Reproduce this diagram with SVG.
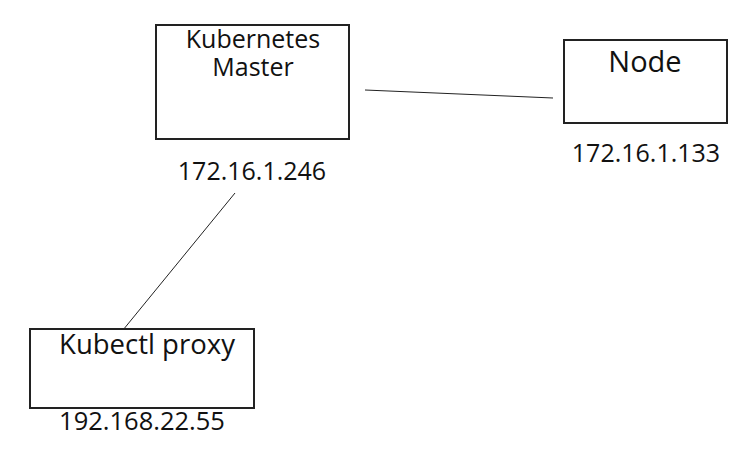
<svg xmlns="http://www.w3.org/2000/svg" width="732" height="453" viewBox="0 0 732 453">
<style>
.box{fill:#fff;stroke:#222;stroke-width:2}
.t{font-family:"Open Sans","Noto Sans",sans-serif;fill:#111;font-size:25px}
.c{stroke:#222;stroke-width:1;fill:none}
</style>
<rect width="732" height="453" fill="#fff"/>
<g id="connectors">
<line class="c" x1="365" y1="90" x2="553" y2="98"/>
<line class="c" x1="235" y1="193" x2="123" y2="330"/>
</g>
<g id="master">
<rect class="box" x="156" y="25" width="193" height="114"/>
<text class="t" x="253" y="48" text-anchor="middle" style="font-size:25px">Kubernetes</text>
<text class="t" x="253" y="76" text-anchor="middle" style="font-size:25px">Master</text>
<text class="t" x="252" y="180" text-anchor="middle">172.16.1.246</text>
</g>
<g id="node">
<rect class="box" x="564" y="40" width="163" height="83"/>
<text class="t" x="645" y="72" text-anchor="middle" style="font-size:29px">Node</text>
<text class="t" x="646" y="162" text-anchor="middle">172.16.1.133</text>
</g>
<g id="kubectl">
<rect class="box" x="30" y="329" width="224" height="79"/>
<text class="t" x="147" y="354" text-anchor="middle" style="font-size:27.5px">Kubectl proxy</text>
<text class="t" x="142" y="430" text-anchor="middle" style="font-size:25.5px">192.168.22.55</text>
</g>
</svg>
